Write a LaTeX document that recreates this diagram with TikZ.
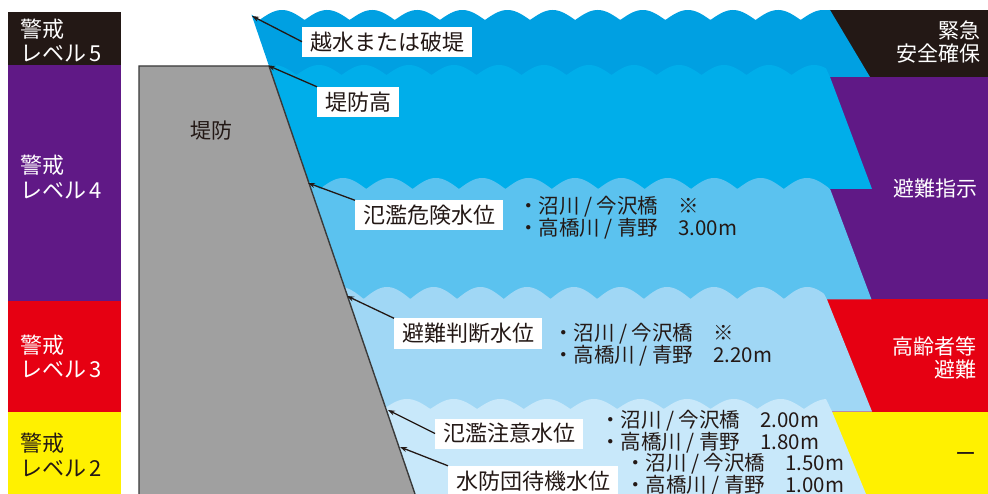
\documentclass[tikz,border=0pt]{standalone}
\usepackage{fontspec}
\setmainfont{Noto Sans CJK JP}
\usetikzlibrary{arrows.meta}
\definecolor{ink}{HTML}{231815}
\definecolor{lvblack}{HTML}{231815}
\definecolor{lvpurple}{HTML}{601986}
\definecolor{lvred}{HTML}{E60012}
\definecolor{lvyellow}{HTML}{FFF100}
\definecolor{wA}{HTML}{00A0E2}
\definecolor{wB}{HTML}{00AEEA}
\definecolor{wC}{HTML}{5BC2EF}
\definecolor{wD}{HTML}{A0D7F5}
\definecolor{wE}{HTML}{C8E8FA}
\definecolor{bankgray}{HTML}{A0A0A0}
\definecolor{bankline}{HTML}{3A3A3A}
\begin{document}
\begin{tikzpicture}[x=1pt,y=-1pt,
  lvtext/.style={align=left,anchor=west,inner sep=0pt,font=\fontsize{22}{24.5}\selectfont},
  rttext/.style={align=right,anchor=east,inner sep=0pt,font=\fontsize{21}{23}\selectfont,text=white},
  tag/.style={fill=white,anchor=west,inner xsep=8pt,inner ysep=0pt,minimum height=30pt,
    text height=19.4pt,text depth=2.6pt,font=\fontsize{22}{24}\selectfont,text=ink},
  info/.style={align=left,anchor=west,inner sep=0pt,font=\fontsize{20.5}{20.8}\selectfont,text=ink},
  arr/.style={draw=ink,line width=1.3pt,-{Stealth[length=7pt,width=5pt]}}]
\useasboundingbox (0,0) rectangle (988,494);
\fill[white] (0,0) rectangle (988,494);

% left level column
\fill[lvblack]  (8,12) rectangle (121,65);
\fill[lvpurple] (8,65) rectangle (121,301);
\fill[lvred]    (8,301) rectangle (121,411.5);
\fill[lvyellow] (8,411.5) rectangle (121,494);
\node[lvtext,text=white] (lv5) at (20,40.5) {警戒\\レベル\,5};
\node[lvtext,text=white] (lv4) at (20,177) {警戒\\レベル\,4};
\node[lvtext,text=white] (lv3) at (20,356.5) {警戒\\レベル\,3};
\node[lvtext,text=ink]   (lv2) at (20,455) {警戒\\レベル\,2};

% right action column
\fill[lvblack]  (826,10) rectangle (988,77);
\fill[lvpurple] (826,77) rectangle (988,299.5);
\fill[lvred]    (826,299.5) rectangle (988,411.5);
\fill[lvyellow] (826,411.5) rectangle (988,494);

% water bands
\begin{scope}
\clip (246.5,0) -- (1000,0) -- (1000,494) -- (415,494) -- cycle;
\fill[wA] plot[domain=230:826,samples=500,variable=\t] (\t,{10+10*(1-abs(cos(3.9911*(\t-282))))})
  -- (830,10) -- (870,77) -- (230,77) -- cycle;
\fill[wB] plot[domain=230:826,samples=500,variable=\t] (\t,{65+10*(1-abs(cos(4*(\t-319))))})
  -- (830,77) -- (872,189) -- (230,189) -- cycle;
\fill[wC] plot[domain=230:828,samples=500,variable=\t] (\t,{178+11*(1-abs(cos(3.8793*(\t-343))))})
  -- (830.5,190) -- (871.5,299.5) -- (230,299.5) -- cycle;
\fill[wD] plot[domain=230:824,samples=500,variable=\t] (\t,{287+12*(1-abs(cos(3.8544*(\t-387))))})
  -- (827,299.5) -- (872,411.5) -- (230,411.5) -- cycle;
\fill[wE] plot[domain=230:826,samples=500,variable=\t] (\t,{399+10*(1-abs(cos(3.8544*(\t-407))))})
  -- (832,411.5) -- (866,494) -- (230,494) -- cycle;
\end{scope}

% embankment
\fill[bankgray] (139,66) -- (269,66) -- (415,494) -- (139,494) -- cycle;
\draw[bankline,line width=1.4pt] (139,494) -- (139,66) -- (269,66) -- (415,494);
\node[font=\fontsize{21}{24}\selectfont,text=ink,inner sep=0pt] (bank) at (211,131) {堤防};

% right texts
\node[rttext] (act5) at (981,42) {緊急\\安全確保};
\node[rttext] (act4) at (978,189) {避難指示};
\node[rttext] (act3) at (977,357.5) {高齢者等\\避難};
\node[rttext,text=ink] (act2) at (977,457) {ー};

% labels
\node[tag] (l1) at (302,41.7) {越水または破堤};
\node[tag] (l2) at (317,102) {堤防高};
\node[tag] (l3) at (355,215.5) {氾濫危険水位};
\node[tag] (l4) at (394,333.5) {避難判断水位};
\node[tag] (l5) at (435,433.5) {氾濫注意水位};
\node[tag] (l6) at (448,481) {水防団待機水位};

\coordinate (t1) at (252,16);
\coordinate (t2) at (268,65.5);
\coordinate (t3) at (308,183);
\coordinate (t4) at (347,296);
\coordinate (t5) at (388,410);
\coordinate (t6) at (400,447);
\draw[arr] (l1.west) -- (t1);
\draw[arr] (l2.north west) -- (t2);
\draw[arr] (l3.north west) -- (t3);
\draw[arr] (l4.north west) -- (t4);
\draw[arr] (l5.west) -- (t5);
\draw[arr] (l6.north west) -- (t6);

% station values
\node[info] (i1) at (518,218) {\makebox[160pt][l]{・沼川 / 今沢橋}※\\\makebox[160pt][l]{・高橋川 / 青野}3.00m};
\node[info] (i2) at (553,344.5) {\makebox[160pt][l]{・沼川 / 今沢橋}※\\\makebox[160pt][l]{・高橋川 / 青野}2.20m};
\node[info] (i3) at (600,432) {\makebox[160pt][l]{・沼川 / 今沢橋}2.00m\\\makebox[160pt][l]{・高橋川 / 青野}1.80m};
\node[info] (i4) at (625,475) {\makebox[160pt][l]{・沼川 / 今沢橋}1.50m\\\makebox[160pt][l]{・高橋川 / 青野}1.00m};
\end{tikzpicture}
\end{document}
